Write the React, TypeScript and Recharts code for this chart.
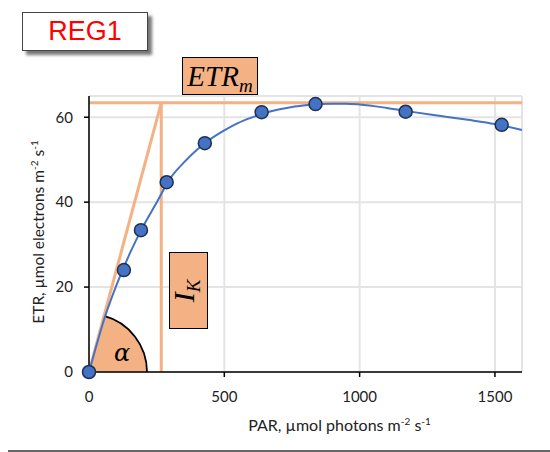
import React from "react";
import {
  ComposedChart,
  Line,
  Scatter,
  XAxis,
  YAxis,
  CartesianGrid,
  ReferenceLine,
} from "recharts";

// Measured data points (PAR, ETR)
const parPoints = [0, 129, 192, 287, 428, 638, 837, 1170, 1525];
const etrPoints = [0, 24.0, 33.4, 44.7, 53.9, 61.2, 63.1, 61.3, 58.2];

// Fitted curve
const fitPar = [0, 25, 50, 100, 150, 200, 250, 300, 350, 400, 450, 500, 550, 600, 650, 700, 750, 800, 850, 900, 950, 1000, 1100, 1200, 1300, 1400, 1500, 1600];
const fitEtr = [0, 5.7, 11.2, 20.2, 27.8, 34.3, 39.9, 45.6, 49.3, 52.4, 54.9, 56.9, 58.6, 59.9, 61.0, 61.8, 62.4, 62.8, 63.1, 63.2, 63.2, 63.0, 62.2, 61.2, 60.3, 59.4, 58.4, 57.0];

const xTicks = [0, 500, 1000, 1500];
const yTicks = [0, 20, 40, 60];

const ETRm = 63.4;
const Ik = 267;

const fitData = fitPar.map((p, i) => ({ par: p, fit: fitEtr[i] }));
const pointData = parPoints.map((p, i) => ({ par: p, etr: etrPoints[i] }));

const ORANGE = "#F4B183";
const BLUE = "#4472C4";
const LABEL_FONT = "Lato, 'Open Sans', sans-serif";

const AlphaShape = (props: any) => {
  const { x1, y1, x2, y2 } = props;
  if ([x1, y1, x2, y2].some((v) => typeof v !== "number" || isNaN(v))) return null;
  const theta = Math.atan2(y1 - y2, x2 - x1);
  const r = 58;
  const ax = x1 + r * Math.cos(theta);
  const ay = y1 - r * Math.sin(theta);
  const wedge = `M ${x1} ${y1} L ${x1 + r} ${y1} A ${r} ${r} 0 0 0 ${ax} ${ay} Z`;
  const arc = `M ${x1 + r} ${y1} A ${r} ${r} 0 0 0 ${ax} ${ay}`;
  return (
    <g>
      <path d={wedge} fill={ORANGE} stroke="none" />
      <path d={arc} fill="none" stroke="#000" strokeWidth={1.8} />
      <line x1={x1} y1={y1} x2={x2} y2={y2} stroke={ORANGE} strokeWidth={3} />
      <text
        x={x1 + 33}
        y={y1 - 11}
        fontFamily="'DejaVu Serif', 'Liberation Serif', serif"
        fontStyle="italic"
        fontSize={24}
        textAnchor="middle"
        fill="#000"
      >
        α
      </text>
    </g>
  );
};

const Dot = (props: any) => {
  const { cx, cy } = props;
  if (typeof cx !== "number" || typeof cy !== "number") return null;
  return <circle cx={cx} cy={cy} r={6.5} fill={BLUE} stroke="#1F2F4F" strokeWidth={1.5} />;
};

const XLabel = (props: any) => {
  const vb = props.viewBox || {};
  const cx = vb.x + vb.width / 2 + 34;
  return (
    <text x={cx} y={431} textAnchor="middle" fontFamily={LABEL_FONT} fontSize={16} fill="#222">
      PAR, µmol photons m
      <tspan dy={-6} fontSize={10}>-2</tspan>
      <tspan dy={6}> s</tspan>
      <tspan dy={-6} fontSize={10}>-1</tspan>
    </text>
  );
};

const YLabel = (props: any) => {
  const vb = props.viewBox || {};
  const cy = vb.y + vb.height / 2 - 2;
  const x = 44;
  return (
    <text
      x={x}
      y={cy}
      transform={`rotate(-90 ${x} ${cy})`}
      textAnchor="middle"
      fontFamily={LABEL_FONT}
      fontSize={15.5}
      fill="#222"
    >
      ETR, µmol electrons m
      <tspan dy={-6} fontSize={10}>-2</tspan>
      <tspan dy={6}> s</tspan>
      <tspan dy={-6} fontSize={10}>-1</tspan>
    </text>
  );
};

export default function App() {
  return (
    <div style={{ position: "absolute", left: 0, top: 0, width: 550, height: 452, background: "#fff" }}>
      <ComposedChart
        width={550}
        height={452}
        data={fitData}
        margin={{ top: 96, right: 28, bottom: 50, left: 29 }}
      >
        <CartesianGrid stroke="#e4e4e4" strokeWidth={2} />
        <XAxis
          dataKey="par"
          type="number"
          domain={[0, 1600]}
          ticks={xTicks}
          height={30}
          axisLine={{ stroke: "#000", strokeWidth: 1.5 }}
          tickLine={{ stroke: "#000", strokeWidth: 1.5 }}
          tickSize={5}
          tickMargin={14}
          tick={{ fontFamily: LABEL_FONT, fontSize: 15, fill: "#222" }}
          label={<XLabel />}
        />
        <YAxis
          type="number"
          domain={[0, 65]}
          ticks={yTicks}
          width={60}
          axisLine={{ stroke: "#000", strokeWidth: 1.5 }}
          tickLine={{ stroke: "#000", strokeWidth: 1.5 }}
          tickSize={5}
          tickMargin={11}
          tick={{ fontFamily: LABEL_FONT, fontSize: 15, fill: "#222" }}
          label={<YLabel />}
        />
        <ReferenceLine
          segment={[{ x: 0, y: ETRm }, { x: 1600, y: ETRm }]}
          stroke={ORANGE}
          strokeWidth={3}
          ifOverflow="visible"
        />
        <ReferenceLine
          segment={[{ x: Ik, y: 0 }, { x: Ik, y: ETRm }]}
          stroke={ORANGE}
          strokeWidth={3}
          ifOverflow="visible"
        />
        <ReferenceLine
          segment={[{ x: 0, y: 0 }, { x: Ik, y: ETRm }]}
          stroke={ORANGE}
          strokeWidth={3}
          ifOverflow="visible"
          shape={<AlphaShape />}
        />
        <Line
          dataKey="fit"
          type="monotone"
          stroke={BLUE}
          strokeWidth={2}
          dot={false}
          activeDot={false}
          isAnimationActive={false}
        />
        <Scatter
          data={pointData}
          dataKey="etr"
          shape={<Dot />}
          isAnimationActive={false}
        />
      </ComposedChart>

      {/* REG1 tag */}
      <div
        style={{
          position: "absolute",
          left: 22,
          top: 12,
          width: 124,
          height: 37,
          border: "1px solid #444",
          background: "#fff",
          boxShadow: "4px 4px 3px #777",
          color: "#FF0000",
          fontFamily: "'Liberation Sans', Arial, sans-serif",
          fontSize: 27,
          lineHeight: "37px",
          textAlign: "center",
        }}
      >
        REG1
      </div>

      {/* ETRm box */}
      <div
        style={{
          position: "absolute",
          left: 182,
          top: 57,
          width: 74,
          height: 36,
          border: "1.5px solid #000",
          background: ORANGE,
          fontFamily: "'Liberation Serif', 'DejaVu Serif', serif",
          fontStyle: "italic",
          fontSize: 29,
          lineHeight: "36px",
          textAlign: "center",
          color: "#000",
          whiteSpace: "nowrap",
        }}
      >
        ETR<sub style={{ fontSize: 19, verticalAlign: "-6px" }}>m</sub>
      </div>

      {/* I_K box */}
      <div
        style={{
          position: "absolute",
          left: 169,
          top: 252,
          width: 37,
          height: 75,
          border: "1.5px solid #000",
          background: ORANGE,
        }}
      >
        <div
          style={{
            position: "absolute",
            left: "50%",
            top: "50%",
            transform: "translate(-50%, -50%) rotate(-90deg)",
            fontFamily: "'Liberation Serif', 'DejaVu Serif', serif",
            fontStyle: "italic",
            fontSize: 30,
            lineHeight: "30px",
            whiteSpace: "nowrap",
            color: "#000",
          }}
        >
          I<sub style={{ fontSize: 19, verticalAlign: "-6px" }}>K</sub>
        </div>
      </div>

      {/* bottom rule */}
      <div
        style={{
          position: "absolute",
          left: 8,
          top: 450,
          width: 542,
          height: 2,
          background: "#666",
        }}
      />
    </div>
  );
}
